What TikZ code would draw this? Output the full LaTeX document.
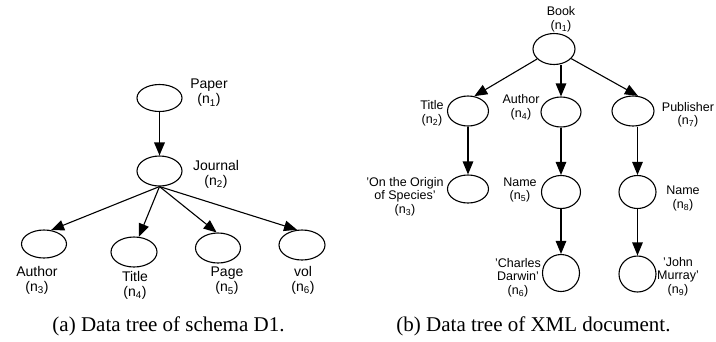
\documentclass[tikz,border=0pt]{standalone}
\usepackage{fontspec}
\setmainfont{Liberation Serif}
\setsansfont{Liberation Sans}
\usetikzlibrary{arrows.meta,shapes.geometric}
\begin{document}
\begin{tikzpicture}[x=1pt,y=-1pt,
  el/.style={draw,ellipse,line width=1.1pt,inner sep=0pt},
  arr/.style={-{Triangle[length=13pt,width=10.5pt]},line width=1.1pt},
  lblL/.style={font=\sffamily\fontsize{14}{15}\selectfont,align=center,inner sep=0pt},
  lblR/.style={font=\sffamily\fontsize{12.5}{13.5}\selectfont,align=center,inner sep=0pt},
  captext/.style={font=\fontsize{21}{25}\selectfont,anchor=base,inner sep=0pt}]
\path[use as bounding box] (0,0) rectangle (716,341);
% ---------- (a) ----------
\node[el,minimum width=45pt,minimum height=27pt] (L1) at (159.5,98) {};
\node[el,minimum width=45pt,minimum height=30pt] (L2) at (159.5,171) {};
\node[el,minimum width=45pt,minimum height=28pt] (L3) at (44,244) {};
\node[el,minimum width=46pt,minimum height=30pt] (L4) at (134,252) {};
\node[el,minimum width=45pt,minimum height=30pt] (L5) at (218,248) {};
\node[el,minimum width=46pt,minimum height=30pt] (L6) at (302,245) {};
\node[lblL] (tL1) at (209,93) {Paper\\(n\textsubscript{1})};
\node[lblL] (tL2) at (216,174) {Journal\\(n\textsubscript{2})};
\node[lblL] (tL3) at (37,280) {Author\\(n\textsubscript{3})};
\node[lblL] (tL4) at (135,285) {Title\\(n\textsubscript{4})};
\node[lblL] (tL5) at (227,281) {Page\\(n\textsubscript{5})};
\node[lblL] (tL6) at (303,280) {vol\\(n\textsubscript{6})};
\draw[arr,line width=1.8pt] (L1.south) -- (L2.north);
\draw[arr] (L2.south) -- (L3.63);
\draw[arr] (L2.south) -- (L4.72);
\draw[arr] (L2.south) -- (L5.95);
\draw[arr] (L2.south) -- (L6.108);
\node[captext] (ca) at (168.5,331) {(a) Data tree of schema D1.};
% ---------- (b) ----------
\node[el,minimum width=42pt,minimum height=31pt] (B1) at (554,49) {};
\node[el,minimum width=41pt,minimum height=30pt] (B2) at (468,111) {};
\node[el,minimum width=40pt,minimum height=30pt] (B4) at (561,112) {};
\node[el,minimum width=42pt,minimum height=30pt] (B7) at (633,111) {};
\node[el,minimum width=41pt,minimum height=28pt] (B3) at (468,189) {};
\node[el,minimum width=39pt,minimum height=33pt] (B5) at (561,192) {};
\node[el,minimum width=37pt,minimum height=33pt] (B8) at (637.5,192) {};
\node[el,minimum width=37pt,minimum height=37pt] (B6) at (561,273) {};
\node[el,minimum width=37pt,minimum height=36pt] (B9) at (637.5,274) {};
\node[lblR] (tB1) at (561,19.5) {Book\\(n\textsubscript{1})};
\node[lblR] (tB2) at (432,113.5) {Title\\(n\textsubscript{2})};
\node[lblR] (tB4) at (521,107.5) {Author\\(n\textsubscript{4})};
\node[lblR] (tB7) at (688,115) {Publisher\\(n\textsubscript{7})};
\node[lblR] (tB3) at (405,196.5) {'On the Origin\\of Species'\\(n\textsubscript{3})};
\node[lblR] (tB5) at (520,190) {Name\\(n\textsubscript{5})};
\node[lblR] (tB8) at (683,198.5) {Name\\(n\textsubscript{8})};
\node[lblR] (tB6) at (518,277.5) {'Charles\\Darwin'\\(n\textsubscript{6})};
\node[lblR] (tB9) at (678,276.5) {'John\\Murray'\\(n\textsubscript{9})};
\draw[arr] (B1) -- (B2.67);
\draw[arr] (B4.north |- B1.south) -- (B4.north);
\draw[arr] (B1) -- (B7.72);
\draw[arr] (B2.south) -- (B3.north);
\draw[arr] (B4.south) -- (B5.north);
\draw[arr] (B8.north |- B7.south) -- (B8.north);
\draw[arr] (B5.south) -- (B6.north);
\draw[arr] (B8.south) -- (B9.north);
\node[captext] (cb) at (533.5,331) {(b) Data tree of XML document.};
\end{tikzpicture}
\end{document}
